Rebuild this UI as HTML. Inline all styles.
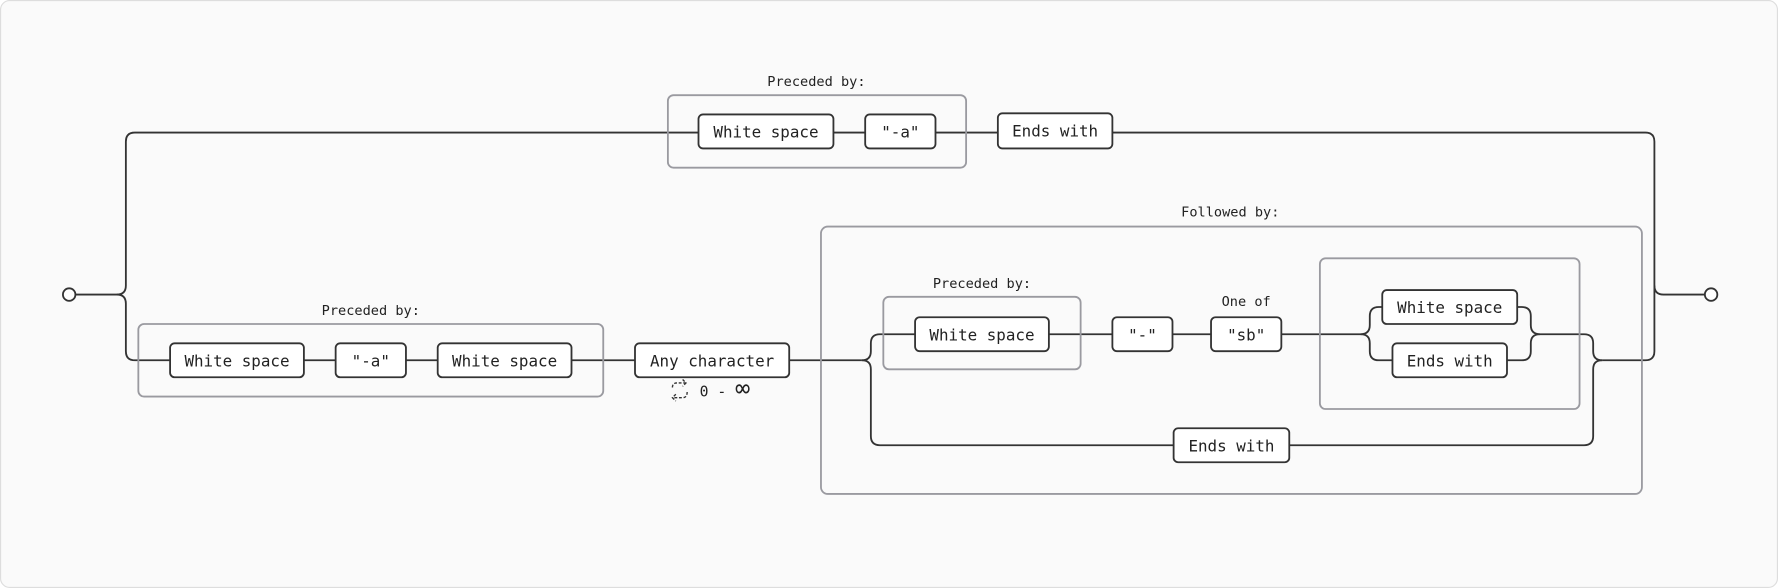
<!DOCTYPE html>
<html><head><meta charset="utf-8"><style>
html,body{margin:0;padding:0;background:#fff;}
svg{display:block;}
text{font-family:"DejaVu Sans Mono","Liberation Mono",monospace;fill:#222;}
.n{fill:#fff;stroke:#333;stroke-width:1.6;}
.b{fill:none;stroke:#9a9aa0;stroke-width:1.6;}
.l{fill:none;stroke:#333;stroke-width:1.6;}
.t{font-size:14px;text-anchor:middle;dominant-baseline:central;}
.s{font-size:12px;text-anchor:middle;}
</style></head><body>
<svg width="1778" height="588" viewBox="0 0 1568 519" preserveAspectRatio="none">
<rect x="0.5" y="0.5" width="1567" height="518" rx="8" fill="#fafafa" stroke="#ddd"/>
<!-- main lines -->
<circle cx="61" cy="260" r="5.5" fill="#fff" stroke="#333" stroke-width="1.6"/>
<path class="l" d="M66.5 260 H103 Q111 260 111 252 V125 Q111 117 119 117 H1451 Q1459 117 1459 125 V252 Q1459 260 1467 260 H1503.5"/>
<path class="l" d="M103 260 Q111 260 111 268 V310 Q111 318 119 318 H760"/>
<path class="l" d="M1459 252 V310 Q1459 318 1451 318 H1413"/>
<circle cx="1509" cy="260" r="5.5" fill="#fff" stroke="#333" stroke-width="1.6"/>
<!-- top branch -->
<rect class="b" x="589" y="84" width="263" height="64" rx="5"/>
<text class="s" x="720" y="76">Preceded by:</text>
<rect class="n" x="616" y="101" width="119" height="30" rx="4"/><text class="t" x="675.5" y="116.5">White space</text>
<rect class="n" x="763" y="101" width="62" height="30" rx="4"/><text class="t" x="794" y="116.5">"-a"</text>
<rect class="n" x="880" y="100" width="101" height="31" rx="4"/><text class="t" x="930.5" y="115.5">Ends with</text>
<!-- bottom branch -->
<rect class="b" x="122" y="286" width="410" height="64" rx="5"/>
<text class="s" x="327" y="278">Preceded by:</text>
<rect class="n" x="150" y="303" width="118" height="30" rx="4"/><text class="t" x="209" y="318.5">White space</text>
<rect class="n" x="296" y="303" width="62" height="30" rx="4"/><text class="t" x="327" y="318.5">"-a"</text>
<rect class="n" x="386" y="303" width="118" height="30" rx="4"/><text class="t" x="445" y="318.5">White space</text>
<rect class="n" x="560" y="303" width="136" height="30" rx="4"/><text class="t" x="628" y="318.5">Any character</text>
<text x="617" y="350" style="font-size:13px">0 - <tspan style="font-size:22px">∞</tspan></text>
<path d="M593 342 Q593 338 597 338 H605 M602 335 l3 3 -3 3 M606 346 Q606 351 602 351 H593 M596 348 l-3 3 3 3" fill="none" stroke="#333" stroke-width="1.2" stroke-dasharray="2.5 1.5"/>
<!-- followed by -->
<rect class="b" x="724" y="200" width="724" height="236" rx="6"/>
<text class="s" x="1085" y="191">Followed by:</text>
<path class="l" d="M760 318 Q768 318 768 310 V303 Q768 295 776 295 H1200 Q1208 295 1208 287 V279 Q1208 271 1216 271 H1219"/>
<path class="l" d="M760 318 Q768 318 768 326 V385 Q768 393 776 393 H1397 Q1405 393 1405 385 V326 Q1405 318 1413 318"/>
<path class="l" d="M1200 295 Q1208 295 1208 303 V310 Q1208 318 1216 318 H1228"/>
<path class="l" d="M1338 271 H1342 Q1350 271 1350 279 V287 Q1350 295 1358 295 H1397 Q1405 295 1405 303 V310 Q1405 318 1413 318"/>
<path class="l" d="M1329 318 H1342 Q1350 318 1350 310 V303 Q1350 295 1358 295"/>
<rect class="b" x="779" y="262" width="174" height="64" rx="5"/>
<text class="s" x="866" y="254">Preceded by:</text>
<rect class="n" x="807" y="280" width="118" height="30" rx="4"/><text class="t" x="866" y="295.5">White space</text>
<rect class="n" x="981" y="280" width="53" height="30" rx="4"/><text class="t" x="1007.5" y="295.5">"-"</text>
<text class="s" x="1099" y="270">One of</text>
<rect class="n" x="1068" y="280" width="62" height="30" rx="4"/><text class="t" x="1099" y="295.5">"sb"</text>
<rect class="b" x="1164" y="228" width="229" height="133" rx="5"/>
<rect class="n" x="1219" y="256" width="119" height="30" rx="4"/><text class="t" x="1278.5" y="271.5">White space</text>
<rect class="n" x="1228" y="303" width="101" height="30" rx="4"/><text class="t" x="1278.5" y="318.5">Ends with</text>
<rect class="n" x="1035" y="378" width="102" height="30" rx="4"/><text class="t" x="1086" y="393.5">Ends with</text>
</svg>
</body></html>
